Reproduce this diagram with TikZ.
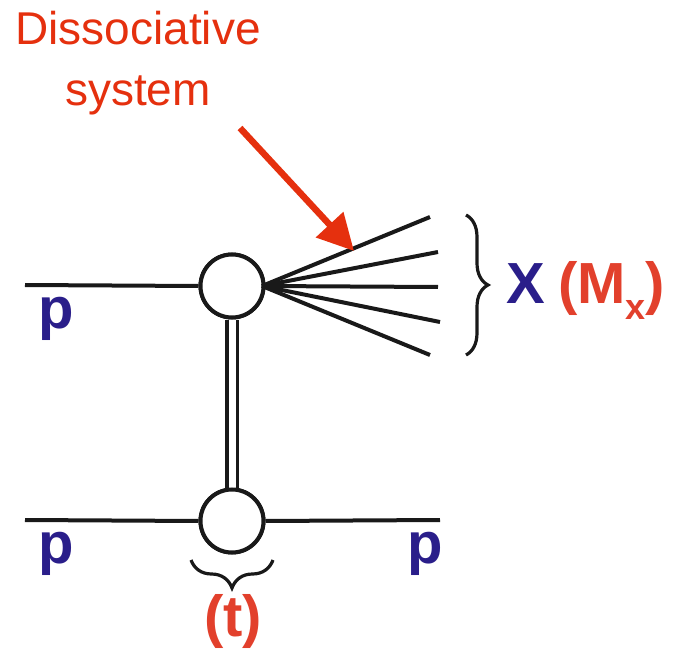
\documentclass[tikz,border=0pt]{standalone}
\usepackage{fontspec}
\setmainfont{Liberation Sans}
\usetikzlibrary{arrows.meta,decorations.pathreplacing}
\definecolor{pblue}{HTML}{2A1E8A}
\definecolor{lred}{HTML}{E2402C}
\definecolor{hred}{HTML}{E5300E}
\tikzset{
  vertex/.style={circle,draw=black!90,line width=4pt,minimum size=63pt,inner sep=0pt,fill=white},
  leg/.style={line width=4pt,draw=black!90},
  brc/.style={line width=3.2pt,draw=black!90,decorate},
  plabel/.style={anchor=base,text=pblue,font=\fontsize{58}{60}\selectfont\bfseries,inner sep=0pt},
  rlabel/.style={anchor=base,text=lred,font=\fontsize{58}{60}\selectfont\bfseries,inner sep=0pt},
  hand/.style={anchor=base,text=hred,font=\fontsize{46}{50}\selectfont,inner sep=0pt}
}
\begin{document}
\begin{tikzpicture}[x=1pt,y=-1pt]
\useasboundingbox (0,0) rectangle (673,650);
% vertices
\node[vertex] (top) at (232,286) {};
\node[vertex] (bot) at (232,521) {};
% proton lines
\coordinate (inL) at (25,285);
\coordinate (inB) at (25,520);
\coordinate (outB) at (440,520);
\draw[leg] (inL) -- (top.west);
\draw[leg] (inB) -- (bot.west);
\draw[leg] (bot.east) -- (outB);
% pomeron
\draw[line width=3.6pt,double=white,double distance=7pt,draw=black!90] (top.south) -- (bot.north);
\node[vertex] at (top) {};
\node[vertex] at (bot) {};
% fan of outgoing particles
\coordinate (f1) at (430,217);
\coordinate (f2) at (438,252);
\coordinate (f3) at (438,287);
\coordinate (f4) at (440,322);
\coordinate (f5) at (430,355);
\coordinate (fo) at (262,286);
\foreach \f in {f1,f2,f3,f4,f5}{\draw[leg] (fo) -- (\f);}
% braces
\coordinate (b1) at (466,215);
\coordinate (b2) at (466,355);
\draw[brc,decoration={brace,amplitude=22pt}] (b1) -- (b2);
\coordinate (t1) at (273,560);
\coordinate (t2) at (191,560);
\draw[brc,decoration={brace,amplitude=28pt}] (t1) -- (t2);
% labels
\node[plabel] (pA) at (56,328) {p};
\node[plabel] (pB) at (56,563) {p};
\node[plabel] (pC) at (425,563) {p};
\node[plabel] (X) at (526,303) {X};
\node[rlabel,anchor=base west] (M) at (558,303) {(M\raisebox{-0.28em}{\fontsize{36}{38}\selectfont x})};
\node[rlabel] (t) at (233,636) {(t)};
% handwritten text and arrow
\node[hand] (d1) at (138,45) {Dissociative};
\node[hand] (d2) at (138,106) {system};
\coordinate (a1) at (240,128);
\coordinate (a2) at (354,251);
\draw[hred,line width=6.5pt,-{Triangle[length=36pt,width=36pt]}] (a1) -- (a2);
\end{tikzpicture}
\end{document}
